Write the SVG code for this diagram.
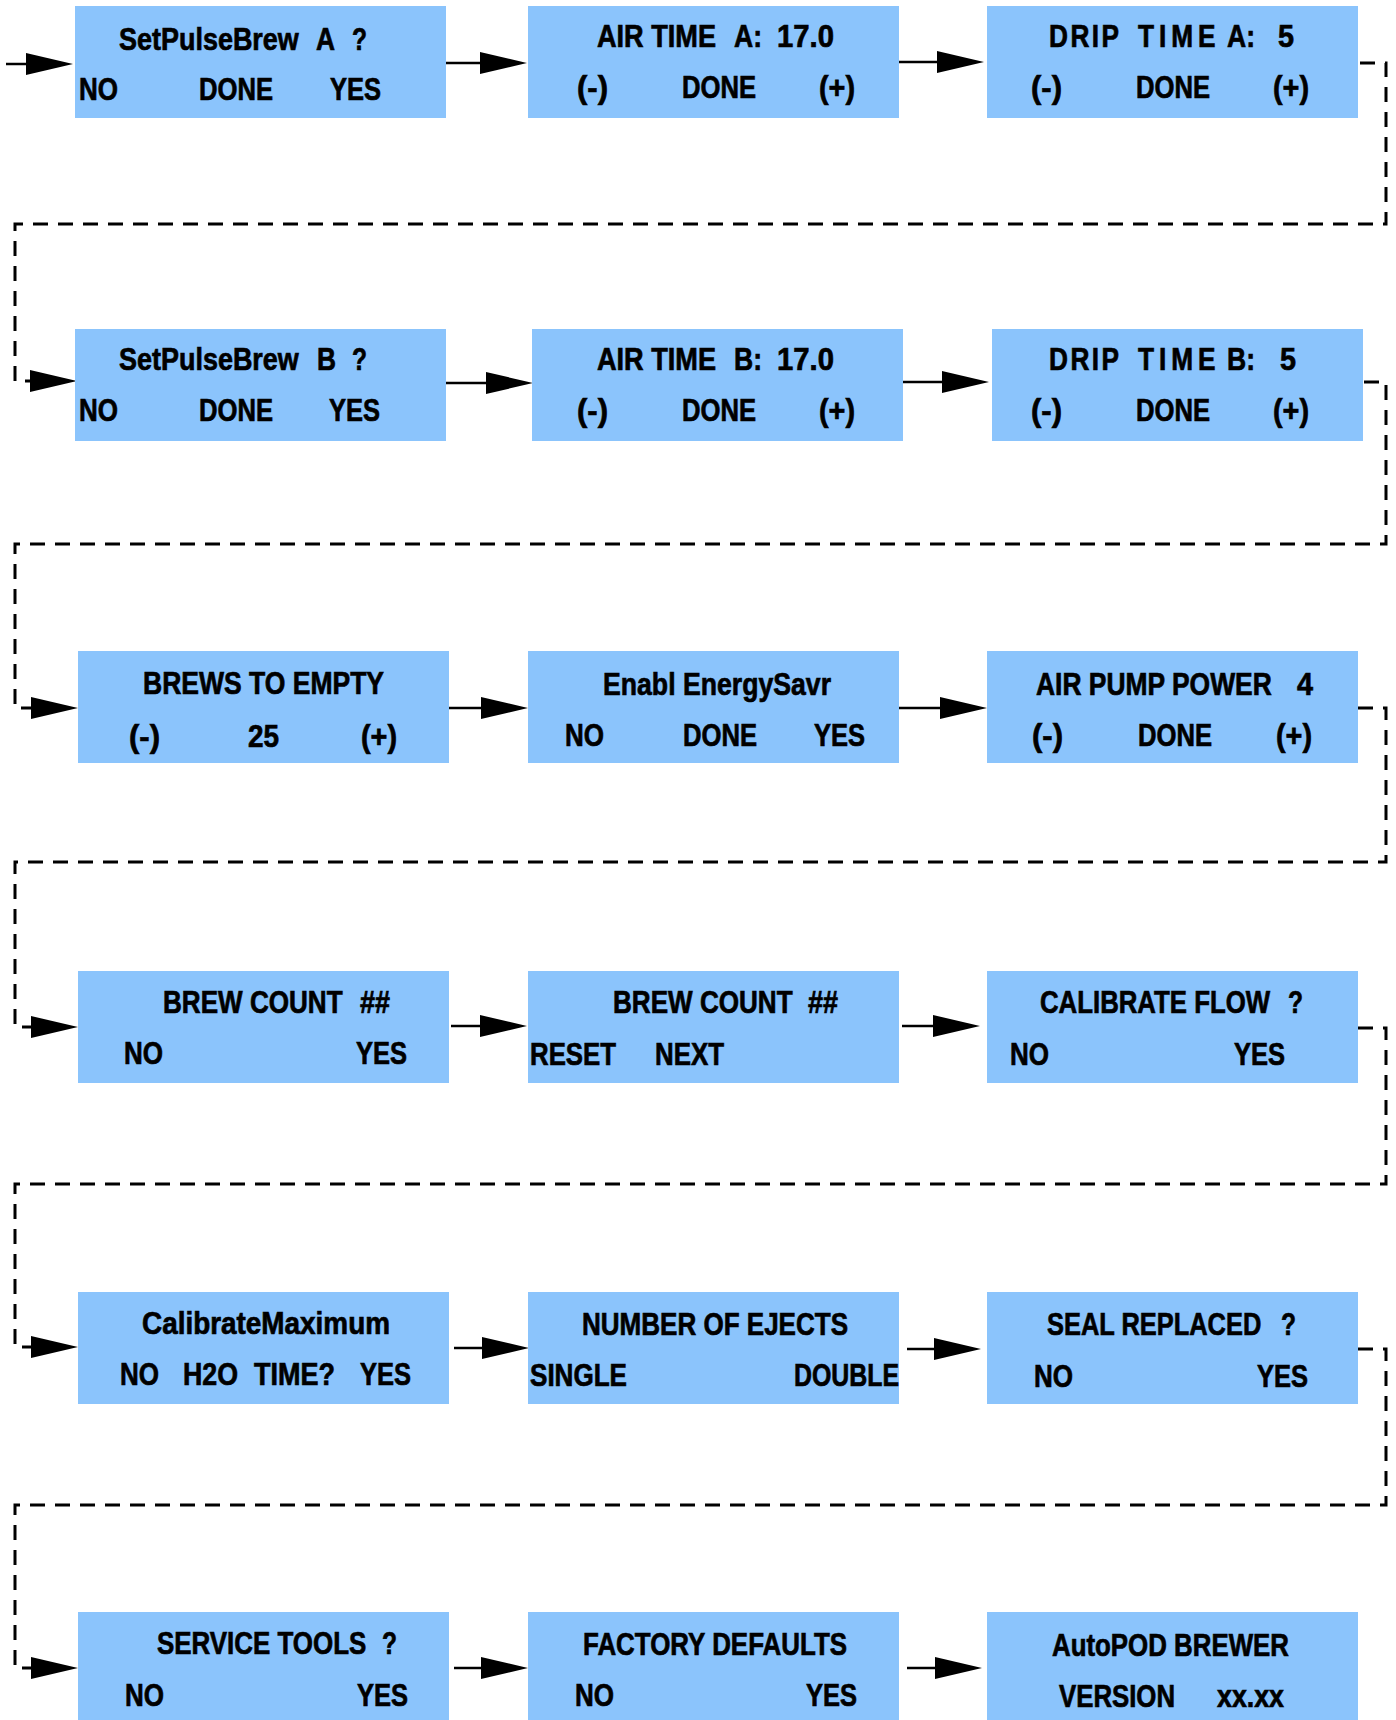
<svg xmlns="http://www.w3.org/2000/svg" width="1396" height="1720" viewBox="0 0 1396 1720">
<style>
.box{fill:#8bc4fc;stroke:none}
.t{font-family:"Liberation Sans",Arial,sans-serif;font-weight:bold;font-size:32px;fill:#000;stroke:#000;stroke-width:0.7}
.s{fill:none;stroke:#000;stroke-width:2.5;marker-end:url(#ah)}
.d{fill:none;stroke:#000;stroke-width:3;stroke-dasharray:15 10;marker-end:url(#ah)}
</style>
<defs>
<marker id="ah" markerUnits="userSpaceOnUse" markerWidth="48" markerHeight="24" refX="0" refY="11" orient="auto" overflow="visible">
<path d="M0,0 L47,11 L0,22 Z" fill="#000"/>
</marker>
</defs>
<rect width="1396" height="1720" fill="#fff"/>
<g id="connectors">
<path class="s" d="M6,64 H26"/>
<path class="s" d="M444,63 H480"/>
<path class="s" d="M899,62 H937"/>
<path class="d" d="M1360,63 H1386 V224 H15 V381 H30"/>
<path class="s" d="M446,383 H486"/>
<path class="s" d="M903,382 H942"/>
<path class="d" d="M1364,382 H1386 V544 H15 V708 H31"/>
<path class="s" d="M449,708 H481"/>
<path class="s" d="M899,708 H940"/>
<path class="d" d="M1358,708 H1386 V862 H15 V1027 H31"/>
<path class="s" d="M451,1026 H480"/>
<path class="s" d="M902,1026 H933"/>
<path class="d" d="M1358,1028 H1386 V1184 H15 V1347 H31"/>
<path class="s" d="M454,1348 H482"/>
<path class="s" d="M907,1349 H934"/>
<path class="d" d="M1358,1349 H1386 V1505 H15 V1668 H31"/>
<path class="s" d="M454,1668 H481"/>
<path class="s" d="M907,1668 H935"/>
</g>
<g id="n1"><rect class="box" x="75" y="6" width="371" height="112"/>
<text class="t" transform="translate(119,50) scale(0.843,1)">SetPulseBrew</text>
<text class="t" y="50"><tspan x="316" textLength="19" lengthAdjust="spacingAndGlyphs">A</tspan><tspan x="352" textLength="15" lengthAdjust="spacingAndGlyphs">?</tspan></text>
<text class="t" y="100"><tspan x="79" textLength="39" lengthAdjust="spacingAndGlyphs">NO</tspan><tspan x="199" textLength="74" lengthAdjust="spacingAndGlyphs">DONE</tspan><tspan x="330" textLength="51" lengthAdjust="spacingAndGlyphs">YES</tspan></text></g>
<g id="n2"><rect class="box" x="528" y="6" width="371" height="112"/>
<text class="t" y="47"><tspan x="597" textLength="119" lengthAdjust="spacingAndGlyphs">AIR TIME</tspan><tspan x="734" textLength="28" lengthAdjust="spacingAndGlyphs">A:</tspan><tspan x="777" textLength="57" lengthAdjust="spacingAndGlyphs">17.0</tspan></text>
<text class="t" y="98"><tspan x="577" textLength="31" lengthAdjust="spacingAndGlyphs">(-)</tspan><tspan x="682" textLength="74" lengthAdjust="spacingAndGlyphs">DONE</tspan><tspan x="819" textLength="36" lengthAdjust="spacingAndGlyphs">(+)</tspan></text></g>
<g id="n3"><rect class="box" x="987" y="6" width="371" height="112"/>
<text class="t" transform="translate(1049,47) scale(0.82,1)" letter-spacing="3">DRIP</text><text class="t" transform="translate(1138,47) scale(0.82,1)" letter-spacing="6">TIME</text><text class="t" y="47"><tspan x="1227" textLength="28" lengthAdjust="spacingAndGlyphs">A:</tspan><tspan x="1278" textLength="16" lengthAdjust="spacingAndGlyphs">5</tspan></text>
<text class="t" y="98"><tspan x="1031" textLength="31" lengthAdjust="spacingAndGlyphs">(-)</tspan><tspan x="1136" textLength="74" lengthAdjust="spacingAndGlyphs">DONE</tspan><tspan x="1273" textLength="36" lengthAdjust="spacingAndGlyphs">(+)</tspan></text></g>
<g id="n4"><rect class="box" x="75" y="329" width="371" height="112"/>
<text class="t" transform="translate(119,370) scale(0.843,1)">SetPulseBrew</text>
<text class="t" y="370"><tspan x="317" textLength="19" lengthAdjust="spacingAndGlyphs">B</tspan><tspan x="352" textLength="15" lengthAdjust="spacingAndGlyphs">?</tspan></text>
<text class="t" y="421"><tspan x="79" textLength="39" lengthAdjust="spacingAndGlyphs">NO</tspan><tspan x="199" textLength="74" lengthAdjust="spacingAndGlyphs">DONE</tspan><tspan x="329" textLength="51" lengthAdjust="spacingAndGlyphs">YES</tspan></text></g>
<g id="n5"><rect class="box" x="532" y="329" width="371" height="112"/>
<text class="t" y="370"><tspan x="597" textLength="119" lengthAdjust="spacingAndGlyphs">AIR TIME</tspan><tspan x="734" textLength="28" lengthAdjust="spacingAndGlyphs">B:</tspan><tspan x="777" textLength="57" lengthAdjust="spacingAndGlyphs">17.0</tspan></text>
<text class="t" y="421"><tspan x="577" textLength="31" lengthAdjust="spacingAndGlyphs">(-)</tspan><tspan x="682" textLength="74" lengthAdjust="spacingAndGlyphs">DONE</tspan><tspan x="819" textLength="36" lengthAdjust="spacingAndGlyphs">(+)</tspan></text></g>
<g id="n6"><rect class="box" x="992" y="329" width="371" height="112"/>
<text class="t" transform="translate(1049,370) scale(0.82,1)" letter-spacing="3">DRIP</text><text class="t" transform="translate(1138,370) scale(0.82,1)" letter-spacing="6">TIME</text><text class="t" y="370"><tspan x="1227" textLength="28" lengthAdjust="spacingAndGlyphs">B:</tspan><tspan x="1280" textLength="16" lengthAdjust="spacingAndGlyphs">5</tspan></text>
<text class="t" y="421"><tspan x="1031" textLength="31" lengthAdjust="spacingAndGlyphs">(-)</tspan><tspan x="1136" textLength="74" lengthAdjust="spacingAndGlyphs">DONE</tspan><tspan x="1273" textLength="36" lengthAdjust="spacingAndGlyphs">(+)</tspan></text></g>
<g id="n7"><rect class="box" x="78" y="651" width="371" height="112"/>
<text class="t" x="143" y="694" textLength="241" lengthAdjust="spacingAndGlyphs">BREWS TO EMPTY</text>
<text class="t" y="747"><tspan x="129" textLength="31" lengthAdjust="spacingAndGlyphs">(-)</tspan><tspan x="248" textLength="31" lengthAdjust="spacingAndGlyphs">25</tspan><tspan x="361" textLength="36" lengthAdjust="spacingAndGlyphs">(+)</tspan></text></g>
<g id="n8"><rect class="box" x="528" y="651" width="371" height="112"/>
<text class="t" x="603" y="695" textLength="228" lengthAdjust="spacingAndGlyphs">Enabl EnergySavr</text>
<text class="t" y="746"><tspan x="565" textLength="39" lengthAdjust="spacingAndGlyphs">NO</tspan><tspan x="683" textLength="74" lengthAdjust="spacingAndGlyphs">DONE</tspan><tspan x="814" textLength="51" lengthAdjust="spacingAndGlyphs">YES</tspan></text></g>
<g id="n9"><rect class="box" x="987" y="651" width="371" height="112"/>
<text class="t" transform="translate(1036,695) scale(0.826,1)">AIR PUMP POWER</text>
<text class="t" x="1297" y="695" textLength="16" lengthAdjust="spacingAndGlyphs">4</text>
<text class="t" y="746"><tspan x="1032" textLength="31" lengthAdjust="spacingAndGlyphs">(-)</tspan><tspan x="1138" textLength="74" lengthAdjust="spacingAndGlyphs">DONE</tspan><tspan x="1276" textLength="36" lengthAdjust="spacingAndGlyphs">(+)</tspan></text></g>
<g id="n10"><rect class="box" x="78" y="971" width="371" height="112"/>
<text class="t" transform="translate(163,1013) scale(0.815,1)">BREW COUNT</text>
<text class="t" x="360" y="1013" textLength="30" lengthAdjust="spacingAndGlyphs">##</text>
<text class="t" y="1064"><tspan x="124" textLength="39" lengthAdjust="spacingAndGlyphs">NO</tspan><tspan x="356" textLength="51" lengthAdjust="spacingAndGlyphs">YES</tspan></text></g>
<g id="n11"><rect class="box" x="528" y="971" width="371" height="112"/>
<text class="t" transform="translate(613,1013) scale(0.815,1)">BREW COUNT</text>
<text class="t" x="808" y="1013" textLength="30" lengthAdjust="spacingAndGlyphs">##</text>
<text class="t" y="1065"><tspan x="530" textLength="86" lengthAdjust="spacingAndGlyphs">RESET</tspan><tspan x="655" textLength="69" lengthAdjust="spacingAndGlyphs">NEXT</tspan></text></g>
<g id="n12"><rect class="box" x="987" y="971" width="371" height="112"/>
<text class="t" transform="translate(1040,1013) scale(0.806,1)">CALIBRATE FLOW</text>
<text class="t" x="1288" y="1013" textLength="15" lengthAdjust="spacingAndGlyphs">?</text>
<text class="t" y="1065"><tspan x="1010" textLength="39" lengthAdjust="spacingAndGlyphs">NO</tspan><tspan x="1234" textLength="51" lengthAdjust="spacingAndGlyphs">YES</tspan></text></g>
<g id="n13"><rect class="box" x="78" y="1292" width="371" height="112"/>
<text class="t" x="142" y="1334" textLength="248" lengthAdjust="spacingAndGlyphs">CalibrateMaximum</text>
<text class="t" y="1385"><tspan x="120" textLength="39" lengthAdjust="spacingAndGlyphs">NO</tspan><tspan x="183" textLength="55" lengthAdjust="spacingAndGlyphs">H2O</tspan><tspan x="254" textLength="81" lengthAdjust="spacingAndGlyphs">TIME?</tspan><tspan x="360" textLength="51" lengthAdjust="spacingAndGlyphs">YES</tspan></text></g>
<g id="n14"><rect class="box" x="528" y="1292" width="371" height="112"/>
<text class="t" x="582" y="1335" textLength="266" lengthAdjust="spacingAndGlyphs">NUMBER OF EJECTS</text>
<text class="t" y="1386"><tspan x="530" textLength="97" lengthAdjust="spacingAndGlyphs">SINGLE</tspan><tspan x="794" textLength="105" lengthAdjust="spacingAndGlyphs">DOUBLE</tspan></text></g>
<g id="n15"><rect class="box" x="987" y="1292" width="371" height="112"/>
<text class="t" transform="translate(1047,1335) scale(0.795,1)">SEAL REPLACED</text>
<text class="t" x="1281" y="1335" textLength="15" lengthAdjust="spacingAndGlyphs">?</text>
<text class="t" y="1387"><tspan x="1034" textLength="39" lengthAdjust="spacingAndGlyphs">NO</tspan><tspan x="1257" textLength="51" lengthAdjust="spacingAndGlyphs">YES</tspan></text></g>
<g id="n16"><rect class="box" x="78" y="1612" width="371" height="112"/>
<text class="t" transform="translate(157,1654) scale(0.81,1)">SERVICE TOOLS</text>
<text class="t" x="382" y="1654" textLength="15" lengthAdjust="spacingAndGlyphs">?</text>
<text class="t" y="1706"><tspan x="125" textLength="39" lengthAdjust="spacingAndGlyphs">NO</tspan><tspan x="357" textLength="51" lengthAdjust="spacingAndGlyphs">YES</tspan></text></g>
<g id="n17"><rect class="box" x="528" y="1612" width="371" height="112"/>
<text class="t" x="583" y="1655" textLength="264" lengthAdjust="spacingAndGlyphs">FACTORY DEFAULTS</text>
<text class="t" y="1706"><tspan x="575" textLength="39" lengthAdjust="spacingAndGlyphs">NO</tspan><tspan x="806" textLength="51" lengthAdjust="spacingAndGlyphs">YES</tspan></text></g>
<g id="n18"><rect class="box" x="987" y="1612" width="371" height="112"/>
<text class="t" x="1052" y="1656" textLength="237" lengthAdjust="spacingAndGlyphs">AutoPOD BREWER</text>
<text class="t" y="1707"><tspan x="1059" textLength="116" lengthAdjust="spacingAndGlyphs">VERSION</tspan><tspan x="1217" textLength="67" lengthAdjust="spacingAndGlyphs">xx.xx</tspan></text></g>
</svg>
